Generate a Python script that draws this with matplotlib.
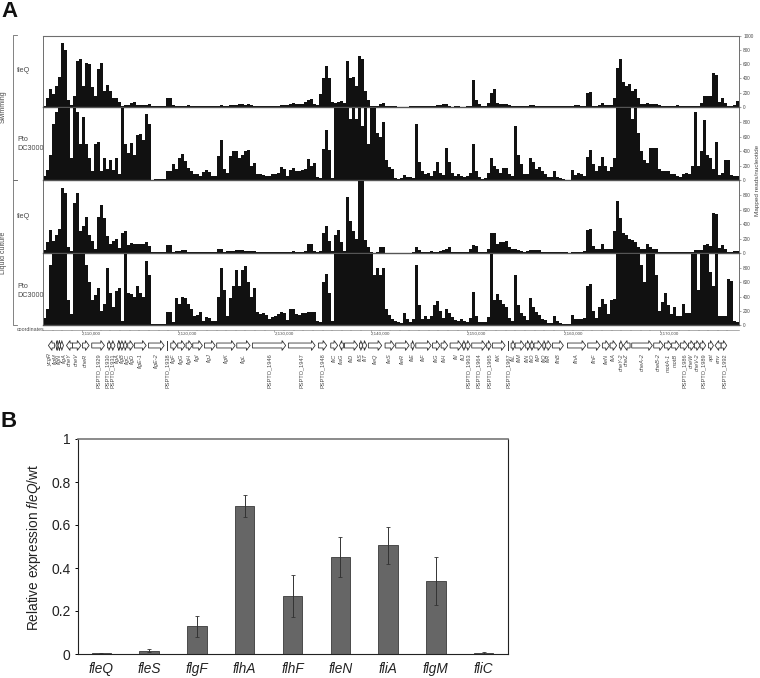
import numpy as np
import matplotlib
matplotlib.use("Agg")
import matplotlib.pyplot as plt
from matplotlib.patches import Polygon

plt.rcParams['font.family'] = ['Liberation Sans', 'DejaVu Sans']
plt.rcParams['mathtext.fontset'] = 'custom'
plt.rcParams['mathtext.rm'] = 'Liberation Sans'
plt.rcParams['mathtext.it'] = 'Liberation Sans:italic'

# ---- Panel A data: mapped reads per nucleotide, in consecutive genome bins
swim_fleq = [
 20,130,250,180,300,420,900,800,100,25,
 150,650,670,300,610,600,280,150,530,620,
 220,310,220,130,120,70,15,25,30,50,
 70,30,25,30,30,40,15,10,10,8,
 10,130,130,25,12,10,15,15,25,10,
 15,15,10,15,15,10,15,15,10,25,
 20,15,25,30,30,35,35,30,35,25,
 15,15,10,15,10,15,20,20,20,30,
 25,25,45,55,40,40,40,70,100,115,
 40,30,185,400,580,400,70,60,70,90,
 50,650,400,420,300,720,670,220,100,20,
 10,10,40,50,15,10,10,8,5,5,
 5,5,15,20,15,15,10,20,15,15,
 20,30,30,35,40,8,5,8,8,5,
 5,10,10,380,100,40,12,15,50,200,
 250,60,40,40,40,30,20,15,10,8,
 10,15,30,30,15,10,10,8,8,10,
 10,15,15,8,15,10,20,30,25,20,
 20,200,210,20,15,30,50,30,25,25,
 130,550,670,350,300,320,220,250,130,40,
 40,50,40,40,35,25,20,15,15,15,
 20,25,20,15,15,15,20,15,10,60,
 150,150,150,470,450,70,130,50,10,15,
 30,80]
swim_wt = [
 50,140,350,780,950,1100,1100,1100,1100,300,
 1000,950,500,880,500,300,120,500,530,120,
 300,150,280,140,300,90,1100,500,370,520,
 350,620,640,550,920,780,5,10,10,10,
 15,130,130,220,150,300,360,260,160,120,
 80,90,60,110,140,110,60,50,330,550,
 150,100,330,400,400,300,350,400,410,200,
 230,90,80,70,60,50,90,80,100,180,
 150,60,140,160,130,130,140,150,290,200,
 240,40,30,430,700,420,30,1100,1100,1100,
 1100,1100,850,1100,850,1000,750,1100,500,1100,
 1100,650,600,800,280,180,150,30,20,25,
 70,40,40,30,780,250,120,80,100,60,
 120,250,100,70,450,250,100,60,80,60,
 40,50,100,500,120,40,20,30,100,300,
 200,150,100,160,170,80,50,750,350,220,
 80,80,300,250,150,180,130,80,40,40,
 130,40,25,20,5,0,140,70,100,90,
 50,320,420,220,120,200,320,200,130,180,
 300,1100,1100,1100,1100,1100,850,1100,650,400,
 280,230,450,450,450,150,120,130,130,80,
 90,50,40,90,100,90,200,950,200,400,
 830,350,300,150,530,70,100,280,280,70,
 50,60]
liquid_fleq = [
 40,150,320,160,250,330,900,830,90,30,
 700,830,300,380,500,250,170,60,500,670,
 480,230,120,170,190,70,280,300,110,140,
 130,130,130,120,150,100,20,15,15,15,
 20,110,110,15,30,30,40,35,20,20,
 15,20,15,10,15,15,10,15,50,50,
 15,25,30,30,40,35,35,30,30,25,
 25,20,20,15,10,20,15,10,10,15,
 15,15,20,25,20,20,20,30,130,130,
 30,15,30,280,380,170,30,250,320,150,
 30,780,450,300,200,1100,1100,180,80,20,
 5,10,80,90,5,5,5,5,5,5,
 5,5,5,10,90,40,20,20,20,25,
 20,20,25,40,60,80,20,15,15,15,
 15,15,60,110,100,20,15,15,60,280,
 280,120,150,150,170,80,50,60,40,30,
 20,30,35,35,40,35,20,15,10,10,
 15,15,10,15,8,5,15,20,15,15,
 30,320,330,100,60,50,120,60,50,60,
 300,720,480,280,250,200,180,150,80,60,
 50,120,80,60,50,10,10,10,10,10,
 15,15,10,10,10,10,10,40,45,40,
 110,120,100,560,540,70,110,50,20,20,
 25,30]
liquid_wt = [
 100,220,850,1100,1100,1100,1100,1100,350,150,
 1100,1100,1100,1100,850,600,350,420,520,200,
 300,800,450,250,480,520,50,1100,450,430,
 400,550,450,400,900,700,15,10,10,15,
 20,190,190,40,380,300,400,380,300,220,
 130,140,190,60,110,100,60,60,400,800,
 500,120,380,550,780,550,780,830,600,400,
 520,190,160,170,140,90,110,120,150,180,
 170,70,230,220,150,140,170,170,190,190,
 190,50,40,600,720,450,60,1100,1100,1100,
 1100,1100,1100,1100,1100,1100,1100,1100,1100,1100,
 700,800,700,800,220,140,80,60,40,30,
 170,90,40,80,850,280,90,120,80,120,
 280,340,200,100,220,170,110,70,50,80,
 60,40,100,470,120,40,40,40,110,1000,
 350,430,350,300,250,100,60,700,280,170,
 120,70,380,250,190,140,90,70,30,30,
 130,60,30,20,10,10,140,80,80,80,
 100,550,580,200,100,250,370,300,150,350,
 370,1100,1100,1100,1100,1100,1100,1100,1100,850,
 600,1100,1000,1100,700,200,320,450,280,150,
 250,130,130,290,170,170,1100,1100,500,1100,
 1100,1100,750,550,1100,130,130,120,650,620,
 50,40]

track_values = [swim_fleq, swim_wt, liquid_fleq, liquid_wt]
track_names = ["fleQ", "Pto\nDC3000", "fleQ", "Pto\nDC3000"]
read_ticks_top = [0, 200, 400, 600, 800, 1000]
read_ticks = [0, 200, 400, 600, 800]
coord_major = [2110, 2120, 2130, 2140, 2150, 2160, 2170]

# genes: name, start and end in kb after 2,110,000, strand
gene_names = ["ycgR","flgM","flgN","flgA","cheY","cheV","cheR","PSPTO_1929","PSPTO_1930","PSPTO_1931",
 "flgA","flgB","flgC","flgD","flgE-1","flgE-2","PSPTO_1938","flgF","flgG","flgH","flgI","flgJ","flgK","flgL",
 "PSPTO_1946","PSPTO_1947","PSPTO_1948","fliC","flaG","fliD","fliS","fliT","fleQ","fleS","fleR","fliE","fliF",
 "fliG","fliH","fliI","fliJ","PSPTO_1963","PSPTO_1964","PSPTO_1965","fliK","PSPTO_1967","fliL","fliM","fliN",
 "fliO","fliP","fliQ","fliR","flhB","flhA","flhF","fleN","fliA","cheY-2","cheZ","cheA-2","cheB-2","motA-1",
 "motB","PSPTO_1986","cheW","cheV-2","PSPTO_1989","apt","env","PSPTO_1992"]
gene_start = [-3.37,-2.59,-2.38,-2.12,-1.50,-0.88,0.16,1.12,2.75,3.12,
 3.81,4.09,4.44,4.85,5.54,7.00,8.91,9.31,10.03,10.90,11.59,12.80,14.07,16.15,
 17.77,21.50,24.61,25.89,26.79,27.31,28.86,29.20,29.79,31.52,32.62,34.22,34.70,
 36.43,37.33,38.26,39.53,39.88,40.50,42.05,42.64,44.23,44.58,45.00,46.09,
 46.55,46.96,47.86,48.17,48.86,50.42,52.52,54.04,54.84,55.80,56.22,57.08,59.36,60.47,
 61.22,62.12,62.96,63.58,64.17,65.03,65.72,66.35]
gene_end = [-2.75,-2.38,-2.12,-1.81,-0.88,0.00,0.85,2.44,3.12,3.53,
 4.09,4.44,4.78,5.44,6.76,8.62,9.02,9.93,10.80,11.55,12.59,13.91,15.98,17.53,
 21.22,24.27,25.47,26.61,27.20,28.68,29.20,29.62,31.17,32.49,34.01,34.56,36.29,
 37.22,38.01,39.46,39.88,40.36,41.95,42.51,43.96,44.33,45.00,45.96,46.55,
 46.96,47.75,48.17,48.73,50.00,52.31,53.80,54.77,55.52,56.15,56.91,59.22,60.36,61.22,
 62.02,62.88,63.58,64.17,64.75,65.55,66.35,66.93]
gene_strand = [-1,-1,-1,1,-1,1,1,1,1,1,
 1,1,1,1,1,1,1,1,1,1,1,1,1,1,
 1,1,1,1,-1,1,1,1,1,1,1,1,1,
 1,1,1,1,1,1,1,1,1,1,1,1,
 1,1,1,1,1,1,1,1,1,1,-1,1,1,1,
 1,1,1,1,1,1,-1,1]

# ---- Panel B data
genes_b = ["fleQ","fleS","flgF","flhA","flhF","fleN","fliA","flgM","fliC"]
expr = [0.003,0.016,0.128,0.69,0.27,0.45,0.505,0.34,0.005]
expr_err = [0.001,0.007,0.051,0.051,0.098,0.092,0.086,0.11,0.003]
expr_ticks = [0,0.2,0.4,0.6,0.8,1]
expr_tick_labels = ["0","0.2","0.4","0.6","0.8","1"]

# ---- Layout
W, H = 760, 678
BASE_KB = 2110.0
KB_PER_BIN = 0.3109
XMIN = BASE_KB - 3.93
XMAX = XMIN + KB_PER_BIN * 232

def px_axes(fig, x0, y0, x1, y1, **kw):
    return fig.add_axes([x0/W, 1-y1/H, (x1-x0)/W, (y1-y0)/H], **kw)

def spread(centres, gap, rounds=200):
    pos = list(centres)
    for _ in range(rounds):
        for k in range(len(pos)-1):
            d = pos[k+1] - pos[k]
            if d < gap:
                pos[k] -= (gap-d)/2
                pos[k+1] += (gap-d)/2
    return pos

fig = plt.figure(figsize=(W/100, H/100), dpi=100, facecolor='white')
GRAY = '#6e6e6e'
INK = '#4a4a4a'
tracks_px = [(35.5,107), (108,180), (181,253), (254,325)]
for i, (vals, (t, b)) in enumerate(zip(track_values, tracks_px)):
    ax = px_axes(fig, 43, t, 739, b)
    xs = XMIN + np.arange(len(vals)) * KB_PER_BIN
    ax.bar(xs, vals, width=KB_PER_BIN, align='edge', color='#111111', linewidth=0)
    ax.set_xlim(XMIN, XMAX)
    ax.set_ylim(0, 1000)
    ax.set_xticks([])
    ax.yaxis.tick_right()
    ax.set_yticks(read_ticks_top if i == 0 else read_ticks)
    ax.tick_params(axis='y', length=1.5, width=0.4, labelsize=3.4, pad=1.5, color=GRAY, labelcolor=INK)
    ax.patch.set_alpha(0)
    for s in ['left', 'right']:
        ax.spines[s].set_color(GRAY); ax.spines[s].set_linewidth(0.7)
    ax.spines['bottom'].set_color('#555555'); ax.spines['bottom'].set_linewidth(1.0)
    ax.spines['top'].set_visible(i == 0)
    ax.spines['top'].set_color(GRAY); ax.spines['top'].set_linewidth(0.8)
    name_y = [71, 144, 217, 291][i]
    fig.text(17/W, 1-name_y/H, track_names[i], fontsize=5.2, color=INK, ha='left', va='center', linespacing=1.25)

# left brackets and group labels
for (t, b, label, yc) in [(35, 180, "Swimming", 107), (180, 325, "Liquid culture", 253)]:
    fig.add_artist(plt.Line2D([16.5/W, 12.7/W, 12.7/W, 16.5/W], [1-t/H, 1-t/H, 1-b/H, 1-b/H],
                              color=GRAY, lw=0.6))
    fig.text(3.5/W, 1-yc/H, label, rotation=90, fontsize=5.0, color=INK, ha='center', va='center')
fig.text(757/W, 1-180/H, "Mapped reads/nucleotide", rotation=90, fontsize=4.6, color=INK, ha='center', va='center')

# coordinate ruler
rul = px_axes(fig, 43, 326, 739, 329.5)
rul.set_xlim(XMIN, XMAX)
rul.set_ylim(0, 1)
rul.set_yticks([])
for s in ['left', 'right', 'top']:
    rul.spines[s].set_visible(False)
rul.spines['bottom'].set_color(GRAY); rul.spines['bottom'].set_linewidth(0.4)
rul.set_xticks(coord_major)
rul.set_xticklabels([f"{c},000".replace("21", "2,1", 1) for c in coord_major], ha='left')
rul.set_xticks(np.arange(2106, 2178), minor=True)
rul.tick_params(axis='x', which='major', length=1.5, width=0.4, labelsize=3.2, pad=0.3, color=GRAY, labelcolor=INK)
rul.tick_params(axis='x', which='minor', length=1, width=0.3, color=GRAY)
rul.patch.set_alpha(0)
fig.text(17/W, 1-329.5/H, "coordinates", fontsize=3.8, color=INK, ha='left', va='center')

# gene arrows
ga = px_axes(fig, 43, 340, 739, 351)
ga.set_xlim(XMIN, XMAX)
ga.set_ylim(-1, 1)
ga.axis('off')
HEAD_KB = 0.38
label_kb = spread([(a+b)/2 for a, b in zip(gene_start, gene_end)], 0.50)
for name, s0, s1, st, lab in zip(gene_names, gene_start, gene_end, gene_strand, label_kb):
    s0a, s1a = BASE_KB + s0, BASE_KB + s1
    length = s1a - s0a
    if length < 0.15:
        ga.plot([s0a + length/2]*2, [-0.85, 0.85], color='#333333', lw=0.7)
    else:
        head = min(HEAD_KB, length * 0.6)
        if st > 0:
            pts = [(s0a,-.45),(s1a-head,-.45),(s1a-head,-.9),(s1a,0),(s1a-head,.9),(s1a-head,.45),(s0a,.45)]
        else:
            pts = [(s1a,-.45),(s0a+head,-.45),(s0a+head,-.9),(s0a,0),(s0a+head,.9),(s0a+head,.45),(s1a,.45)]
        ga.add_patch(Polygon(pts, closed=True, facecolor='white', edgecolor='#333333', lw=0.6))
    italic = not name.startswith("PSPTO")
    ga.text(BASE_KB + lab, -1.45, name, rotation=90, ha='center', va='top', fontsize=4.1,
            color=INK, style='italic' if italic else 'normal', clip_on=False)

fig.text(1/W, 1-17/H, "A", fontsize=16, fontweight='bold', color='#111111', ha='left', va='baseline')
fig.text(1/W, 1-427/H, "B", fontsize=16, fontweight='bold', color='#111111', ha='left', va='baseline')

# ---- Panel B
bx = px_axes(fig, 77.5, 439, 507.5, 654)
xb = np.arange(len(genes_b))
bx.bar(xb, expr, width=0.405, color='#666666', edgecolor='#4a4a4a', linewidth=0.7,
       yerr=expr_err, ecolor='#333333', error_kw=dict(elinewidth=0.7, capsize=1.7, capthick=0.6))
bx.set_xlim(-0.5, len(genes_b)-0.5)
bx.set_ylim(0, 1)
bx.set_xticks(xb)
bx.set_xticklabels(genes_b, style='italic', fontsize=9.8, color='#222222')
bx.set_yticks(expr_ticks)
bx.set_yticklabels(expr_tick_labels, fontsize=10, color='#222222')
bx.tick_params(axis='x', length=0, pad=5.5)
bx.tick_params(axis='y', length=2.5, width=0.7, pad=2.5)
for s in ['left', 'right', 'bottom']:
    bx.spines[s].set_color('#222222'); bx.spines[s].set_linewidth(0.8)
bx.spines['top'].set_color('#777777'); bx.spines['top'].set_linewidth(1.2)
fig.text(34/W, 1-547/H, r"Relative expression $\mathit{fleQ}$/wt", rotation=90, fontsize=9.8,
         color='#222222', ha='center', va='center')

fig.savefig("out.png", dpi=100, facecolor='white')
